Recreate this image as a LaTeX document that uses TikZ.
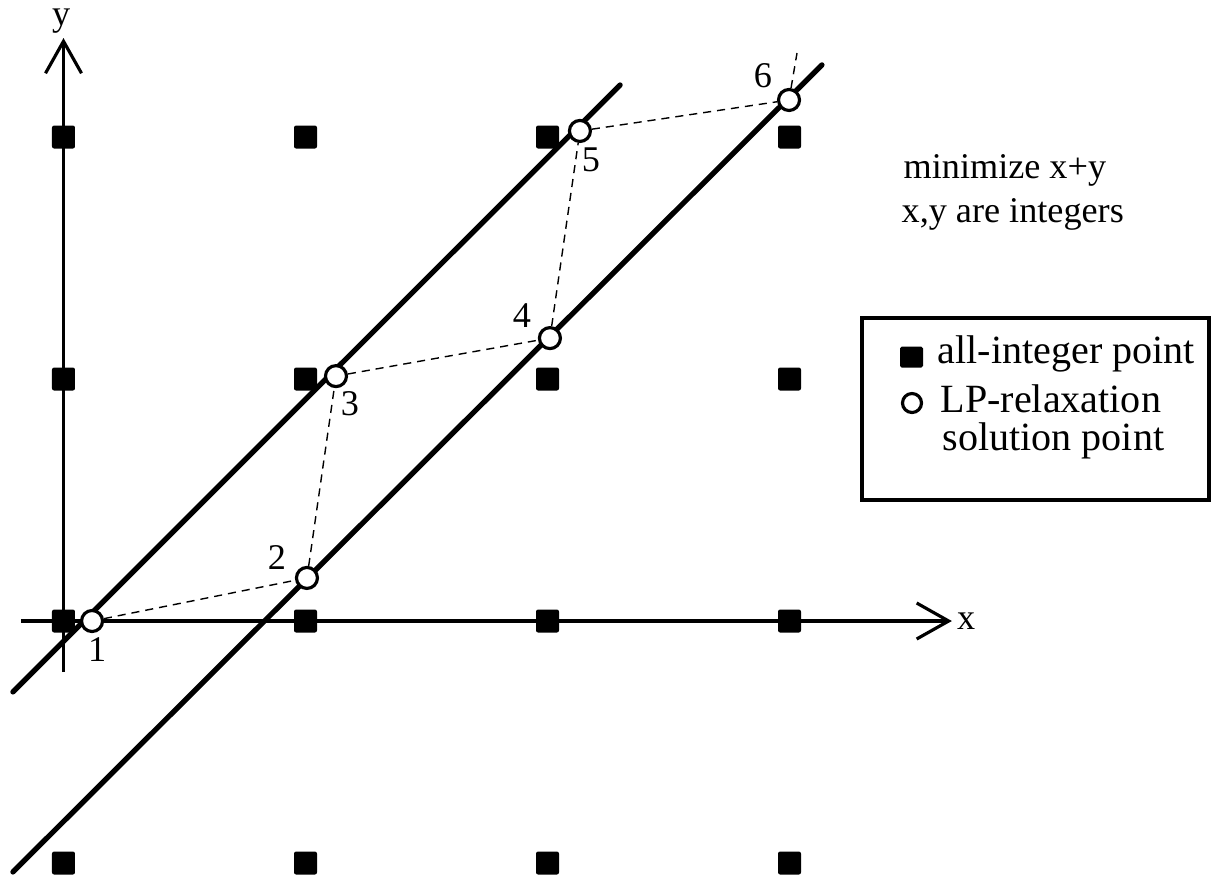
\documentclass[tikz,border=0pt]{standalone}
\usepackage{fontspec}
\setmainfont{Liberation Serif}
\usetikzlibrary{arrows.meta, positioning}
\tikzstyle{intpt} = [rectangle, fill=black, minimum width=0.23cm, minimum height=0.23cm, inner sep=0pt, rounded corners=0.6pt]
\tikzstyle{lppt} = [circle, draw=black, fill=white, line width=0.9pt, minimum size=0.21cm, inner sep=0pt]
\tikzstyle{numlbl} = [inner sep=0pt, font=\fontsize{10.3}{12}\selectfont]
\tikzstyle{txt} = [inner sep=0pt, anchor=base west, font=\fontsize{10.3}{12}\selectfont]
\tikzstyle{legtxt} = [inner sep=0pt, anchor=base west, font=\fontsize{11.4}{13}\selectfont]
\tikzstyle{cutline} = [line width=1.5pt, line cap=round]
\tikzstyle{trail} = [line width=0.4pt, dash pattern=on 2.3pt off 1.7pt]
\tikzstyle{axisline} = [line width=0.9pt, -{Straight Barb[length=3.2mm,width=3.6mm]}]

\begin{document}
\begin{tikzpicture}[x=2.42cm, y=2.42cm]
\useasboundingbox (-0.635cm,-2.55cm) rectangle (11.485cm,6.21cm);

% integer grid
\foreach \i in {0,...,3}
  \foreach \j in {-1,...,2}
    \node (g\i\j) [intpt] at (\i,\j) {};

% axes
\coordinate (xs) at (-0.176,0);
\coordinate (xe) at (3.671,0);
\coordinate (ys) at (0,-0.211);
\coordinate (ye) at (0,2.409);
\draw [axisline] (xs) -- (xe);
\draw [axisline] (ys) -- (ye);
\node (xlbl) [numlbl] at (3.73,0) {x};
\node (ylbl) [numlbl] at (-0.01,2.48) {y};

% cutting lines
\coordinate (a1) at (-0.209,-0.293);
\coordinate (a2) at (2.300,2.215);
\coordinate (b1) at (-0.209,-1.037);
\coordinate (b2) at (3.134,2.298);
\draw [cutline] (a1) -- (a2);
\draw [cutline] (b1) -- (b2);

% LP solution points
\node (p1) [lppt] at (0.118,0) {};
\node (p2) [lppt] at (1.006,0.178) {};
\node (p3) [lppt] at (1.126,1.012) {};
\node (p4) [lppt] at (2.010,1.169) {};
\node (p5) [lppt] at (2.134,2.025) {};
\node (p6) [lppt] at (2.998,2.153) {};
\coordinate (c7) at (3.031,2.347);

\draw [trail] (p1) -- (p2) -- (p3) -- (p4) -- (p5) -- (p6) -- (c7);

\node (n1) [numlbl, xshift=0.05cm, yshift=-0.29cm] at (p1) {1};
\node (n2) [numlbl, xshift=-0.30cm, yshift=0.20cm] at (p2) {2};
\node (n3) [numlbl, xshift=0.14cm, yshift=-0.28cm] at (p3) {3};
\node (n4) [numlbl, xshift=-0.28cm, yshift=0.23cm] at (p4) {4};
\node (n5) [numlbl, xshift=0.11cm, yshift=-0.29cm] at (p5) {5};
\node (n6) [numlbl, xshift=-0.26cm, yshift=0.24cm] at (p6) {6};

% problem statement
\node (goal) [txt] at (8.395cm,4.43cm) {minimize x+y};
\node (cond) [txt] at (8.375cm,3.99cm) {x,y are integers};

% legend
\node (legend) [draw, line width=0.9pt, minimum width=3.47cm, minimum height=1.82cm, inner sep=0pt] at (9.72cm,2.12cm) {};
\node (lsq) [rectangle, fill=black, minimum width=0.23cm, minimum height=0.21cm, inner sep=0pt, rounded corners=0.5pt] at (8.48cm,2.64cm) {};
\node (lci) [circle, draw=black, line width=0.9pt, minimum size=0.19cm, inner sep=0pt] at (8.485cm,2.18cm) {};
\node (ltx1) [legtxt] at (8.735cm,2.58cm) {all-integer point};
\node (ltx2) [legtxt] at (8.765cm,2.09cm) {LP-relaxation};
\node (ltx3) [legtxt] at (8.785cm,1.71cm) {solution point};

\end{tikzpicture}
\end{document}
